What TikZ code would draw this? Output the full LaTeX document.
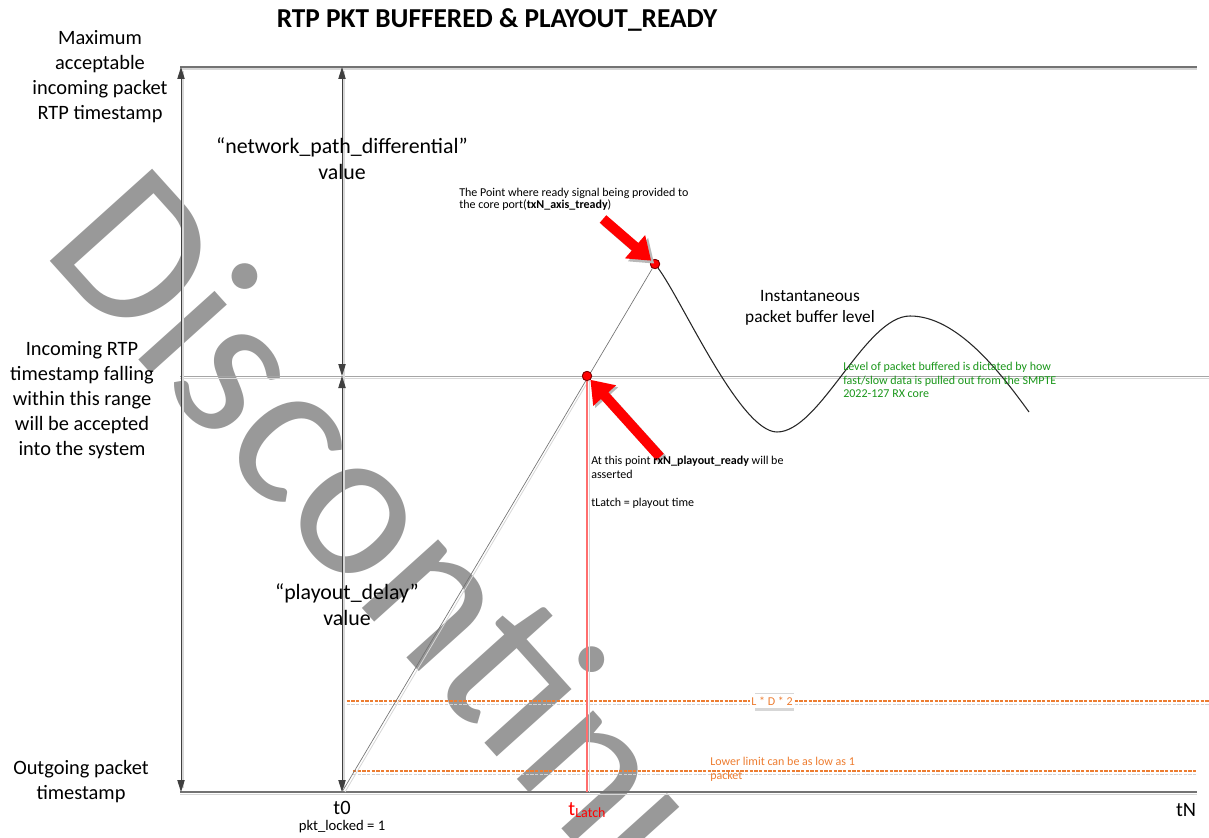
\documentclass[tikz,border=0pt]{standalone}
\usepackage{fontspec}
\setmainfont{Carlito}
\usetikzlibrary{arrows.meta,calc}
\definecolor{axisgray}{RGB}{115,115,115}
\definecolor{shadowgray}{RGB}{215,215,215}
\definecolor{arrowdark}{RGB}{64,64,64}
\definecolor{midgray}{RGB}{165,165,165}
\definecolor{wmgray}{RGB}{153,153,153}
\definecolor{orangeline}{RGB}{237,125,49}
\definecolor{notegreen}{RGB}{25,150,25}
\definecolor{latchred}{RGB}{255,110,110}
\begin{document}
\begin{tikzpicture}[x=0.75pt,y=-0.75pt,
  lbl/.style={font=\fontsize{15.3}{18.75}\selectfont, align=center, inner sep=0pt},
  biglbl/.style={font=\fontsize{16.4}{19.5}\selectfont, align=center, inner sep=0pt},
  note/.style={font=\fontsize{9}{10.4}\selectfont, align=left, inner sep=0pt, anchor=north west},
  vec/.style={draw=arrowdark, line width=0.75pt, {Triangle[width=5.5pt,length=9pt]}-{Triangle[width=5.5pt,length=9pt]}},
  vecshadow/.style={draw=shadowgray, line width=1pt},
  axis/.style={draw=axisgray, line width=1.2pt},
  axisshadow/.style={draw=shadowgray, line width=1.2pt},
  guide/.style={draw=midgray, line width=0.7pt},
  limit/.style={draw=orangeline, line width=0.9pt, dash pattern=on 2.4pt off 1.1pt},
  limitshadow/.style={draw=black!18, line width=0.7pt, dash pattern=on 2.4pt off 1.1pt},
  blockarrow/.style={draw=red, line width=7.5pt, -{Triangle[width=22pt,length=16pt]}},
  blockshadow/.style={draw=black!28, line width=7.5pt, -{Triangle[width=22pt,length=16pt]}},
  dot/.style={circle, fill=red, draw=red!50!black, line width=0.6pt, inner sep=0pt, minimum size=7pt},
  wm/.style={text=wmgray, font=\fontsize{161}{161}\selectfont, inner sep=0pt},
]
\useasboundingbox (0,0) rectangle (1209,838);

% watermark lettering behind the chart
\begin{scope}
  \clip (0,0) rectangle (1209,838);
  \node[wm, anchor=base west, rotate=-48] (wmark) at (40,250) {Discontinued};
\end{scope}

% reference points of the chart
\coordinate (axTL) at (180,67);
\coordinate (axTR) at (1197,67);
\coordinate (axBL) at (180,792);
\coordinate (axBR) at (1197,792);
\coordinate (midL) at (180,376);
\coordinate (midR) at (1209,376);
\coordinate (vLtop) at (181,67);
\coordinate (vLbot) at (181,792);
\coordinate (vMtop) at (342,67);
\coordinate (vMmid) at (342,376);
\coordinate (vMbot) at (342,792);
\coordinate (latchbase) at (587,792);
\coordinate (ldL) at (342,701);
\coordinate (ldR) at (1209,701);
\coordinate (llL) at (353,771);
\coordinate (llR) at (1197,771);
\coordinate (a1tail) at (603,219);
\coordinate (a2tail) at (660,457);

% horizontal reference lines
\draw[axisshadow] ($(axTL)+(0,2)$) -- ($(axTR)+(0,2)$);
\draw[axis] (axTL) -- (axTR);
\draw[axisshadow] ($(axBL)+(0,2.5)$) -- ($(axBR)+(0,2.5)$);
\draw[axis] (axBL) -- (axBR);
\draw[shadowgray, line width=0.7pt] ($(midL)+(0,2)$) -- ($(midR)+(0,2)$);
\draw[guide] (midL) -- (midR);

% buffer limits
\draw[limitshadow] ($(ldL)+(0,3.5)$) -- ($(ldR)+(0,3.5)$);
\draw[limit] (ldL) -- (ldR);
\draw[limitshadow] ($(llL)+(0,3)$) -- ($(llR)+(0,3)$);
\draw[limit] (llL) -- (llR);

% range arrows
\draw[vecshadow] ($(vLtop)+(2,4)$) -- ($(vLbot)+(2,-4)$);
\draw[vec] (vLtop) -- (vLbot);
\draw[vecshadow] ($(vMtop)+(2,4)$) -- ($(vMbot)+(2,-4)$);
\draw[vec] (vMtop) -- (vMmid);
\draw[vec] (vMmid) -- (vMbot);

% markers
\node[dot] (peakdot) at (655,264) {};
\node[dot] (readydot) at (587,376) {};

% fill ramp and buffer level
\draw[shadowgray, line width=0.6pt] ($(vMbot)+(3,0)$) -- ($(readydot)+(3,2)$);
\draw[draw=black!55, line width=0.5pt] (vMbot) -- (peakdot);
\draw[shadowgray, line width=1pt] ($(readydot)+(2.5,4)$) -- ($(latchbase)+(2.5,0)$);
\draw[latchred, line width=1.1pt] (readydot) -- (latchbase);
\draw[black!85, line width=0.8pt] (peakdot) .. controls (682,300) and (740,432) .. (777,432)
  .. controls (820,432) and (865,316) .. (910,316)
  .. controls (957,316) and (1000,372) .. (1029,412);
\node[dot] at (peakdot) {};
\node[dot] at (readydot) {};

% pointer arrows
\draw[blockshadow] ($(a1tail)+(2.5,2.5)$) -- ($($(peakdot)!3.3pt!(a1tail)$)+(2.5,2.5)$);
\draw[blockarrow] (a1tail) -- (peakdot);
\draw[blockshadow] ($(a2tail)+(2.5,2.5)$) -- ($($(readydot)!3.3pt!(a2tail)$)+(2.5,2.5)$);
\draw[blockarrow] (a2tail) -- (readydot);

% texts
\node[font=\fontsize{20.5}{24}\selectfont\bfseries, inner sep=0pt] (title) at (497,20) {RTP PKT BUFFERED \& PLAYOUT\_READY};
\node[lbl] (maxlbl) at (100,77) {Maximum\\acceptable\\incoming packet\\RTP timestamp};
\node[lbl] (inlbl) at (82,400) {Incoming RTP\\timestamp falling\\within this range\\will be accepted\\into the system};
\node[lbl] (outlbl) at (81,782) {Outgoing packet\\timestamp};
\node[biglbl] (netlbl) at (342,159) {“network\_path\_differential”\\value};
\node[biglbl] (playlbl) at (347,605) {“playout\_delay”\\value};
\node[note, font=\fontsize{9}{9.2}\selectfont] (readynote) at (459,188) {The Point where ready signal being provided to\\the core port(\textbf{txN\_axis\_tready})};
\node[font=\fontsize{13}{15.8}\selectfont, align=center, inner sep=0pt] (levellbl) at (810,308) {Instantaneous\\packet buffer level};
\node[note, text=notegreen, font=\fontsize{9}{10.1}\selectfont] (greennote) at (843,362) {Level of packet buffered is dictated by how\\fast/slow data is pulled out from the SMPTE\\2022-127 RX core};
\node[note] (playnote) at (591,456) {At this point \textbf{rxN\_playout\_ready} will be\\asserted\\[10.4pt]tLatch = playout time};
\node[note, text=orangeline] (lownote) at (710,757) {Lower limit can be as low as 1\\packet};
\fill[shadowgray] (755,693) rectangle (794,711);
\node[fill=white, text=orangeline, font=\fontsize{9}{10}\selectfont, inner sep=1pt, minimum height=11pt] (ldlbl) at (772,701) {L * D * 2};
\node[font=\fontsize{15.3}{18}\selectfont, inner sep=0pt] (t0lbl) at (342,808) {t0};
\node[font=\fontsize{11}{13}\selectfont, inner sep=0pt] (locklbl) at (342,827) {pkt\_locked = 1};
\node[text=red, font=\fontsize{15.3}{18}\selectfont, inner sep=0pt] (latchlbl) at (587,810) {t\raisebox{-2pt}{\fontsize{10.5}{12}\selectfont Latch}};
\node[font=\fontsize{15.3}{18}\selectfont, inner sep=0pt] (tnlbl) at (1186,810) {tN};
\end{tikzpicture}
\end{document}
